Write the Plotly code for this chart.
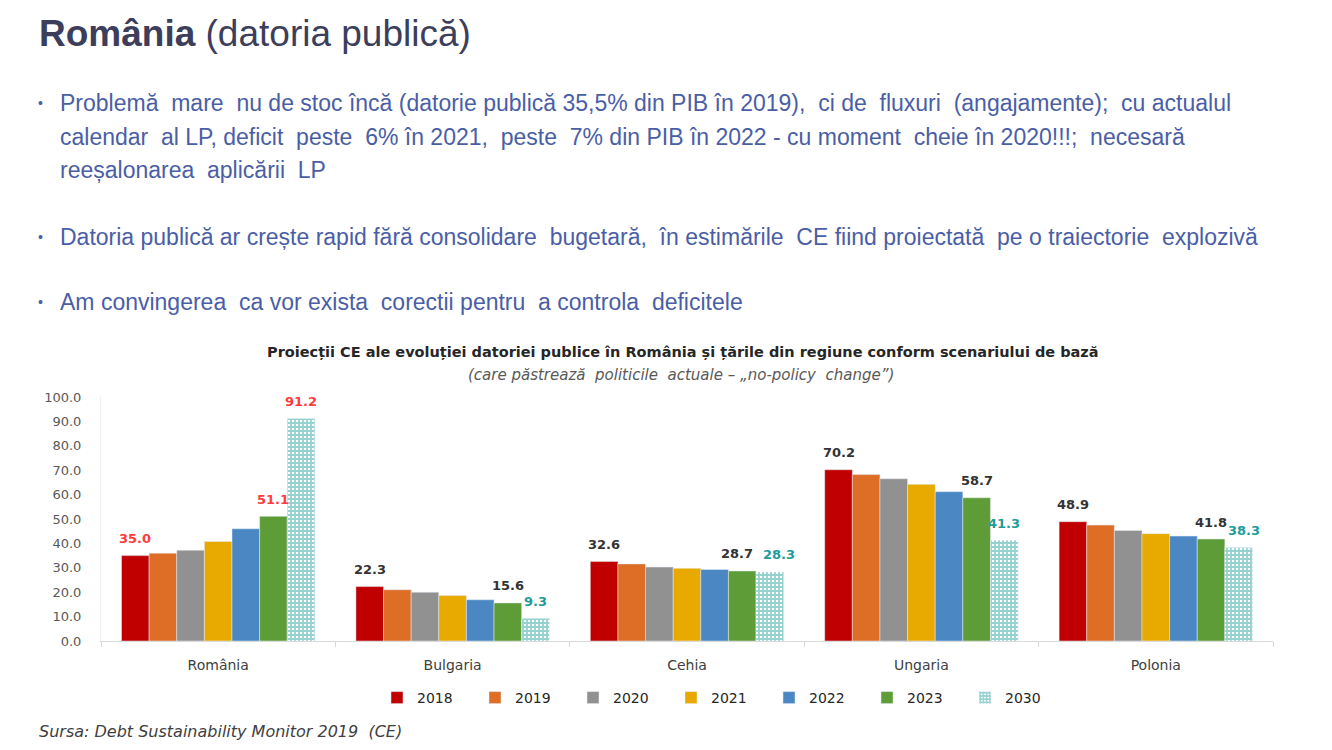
import plotly.graph_objects as go

# date: Debt Sustainability Monitor 2019 (CE), datoria publica % PIB
tari = ['România', 'Bulgaria', 'Cehia', 'Ungaria', 'Polonia']
ani = ['2018', '2019', '2020', '2021', '2022', '2023', '2030']

d2018 = [35.0, 22.3, 32.6, 70.2, 48.9]
d2019 = [36.0, 21.0, 31.6, 68.2, 47.5]
d2020 = [37.2, 20.0, 30.3, 66.5, 45.3]
d2021 = [40.8, 18.6, 29.8, 64.2, 44.0]
d2022 = [46.0, 16.9, 29.3, 61.2, 43.0]
d2023 = [51.1, 15.6, 28.7, 58.7, 41.8]
d2030 = [91.2, 9.3, 28.3, 41.3, 38.3]

serii = [d2018, d2019, d2020, d2021, d2022, d2023, d2030]
culori = ['#C00000', '#DE6D26', '#919191', '#E8AA00', '#4A87C3', '#5E9C37', '#1F9C9A']
# ce ani au eticheta de valoare
cu_eticheta = ['2018', '2023', '2030']

bullet1 = ['Problemă  mare  nu de stoc încă (datorie publică 35,5% din PIB în 2019),  ci de  fluxuri  (angajamente);  cu actualul',
           'calendar  al LP, deficit  peste  6% în 2021,  peste  7% din PIB în 2022 - cu moment  cheie în 2020!!!;  necesară',
           'reeșalonarea  aplicării  LP']
bullet2 = 'Datoria publică ar crește rapid fără consolidare  bugetară,  în estimările  CE fiind proiectată  pe o traiectorie  explozivă'
bullet3 = 'Am convingerea  ca vor exista  corectii pentru  a controla  deficitele'

# pagina are margine de 8px in browser -> figura mai mica, coordonate mutate
OFF = 8
W, H = 1332 - 2 * OFF, 750 - 2 * OFF
# zona graficului (coordonate pe pagina)
L, R, T, B = 101 - OFF, 1273 - OFF, 397 - OFF, 641 - OFF
BARGAP = 0.175


def px2paper(x, y):
    # pixel pe pagina -> coordonate paper
    x, y = x - OFF, y - OFF
    return (x - L) / (R - L), (B - y) / (B - T)


fig = go.Figure()

for an, vals, col in zip(ani, serii, culori):
    if an == '2030':
        marker = dict(color='white', pattern=dict(shape='+', fgcolor='#2AA3A0', bgcolor='white',
                                                  size=4, solidity=0.7))
    else:
        marker = dict(color=col)
    fig.add_trace(go.Bar(x=tari, y=vals, name=an, marker=marker))

fig.update_layout(
    width=W, height=H,
    margin=dict(l=L, r=W - R, t=T, b=H - B, autoexpand=False),
    paper_bgcolor='white', plot_bgcolor='white',
    barmode='group', bargap=BARGAP, bargroupgap=0,
    font=dict(family='DejaVu Sans', color='#404040'),
    showlegend=True,
    legend=dict(orientation='h', xref='container', yref='container',
                x=(377 - OFF) / W, xanchor='left', y=1 - (698 - OFF) / H, yanchor='middle',
                font=dict(family='DejaVu Sans', size=14, color='#262626'),
                entrywidth=53, itemwidth=30, traceorder='normal'),
)

fig.update_yaxes(range=[0, 100], dtick=10, tickformat='.1f', showgrid=False, zeroline=False,
                 showline=True, linecolor='#EEF2F8', linewidth=1,
                 tickfont=dict(family='DejaVu Sans', size=13, color='#595959'), ticklabelstandoff=16)
fig.update_xaxes(showgrid=False, showline=True, linecolor='#D9D9D9', linewidth=1,
                 ticks='outside', tickson='boundaries', ticklen=5, tickcolor='#D9D9D9',
                 tickfont=dict(family='DejaVu Sans', size=14, color='#404040'), ticklabelstandoff=11)

adnotari = []

# etichete de valoare deasupra barelor
lat_cat = (R - L) / len(tari)
lat_bara = lat_cat * (1 - BARGAP) / len(ani)
# Excel a departat etichetele de la Cehia ca sa nu se suprapuna
decalaj = {('2023', 2): -5, ('2030', 2): 9, ('2030', 4): 5}
for j, (an, vals) in enumerate(zip(ani, serii)):
    if an not in cu_eticheta:
        continue
    for i, v in enumerate(vals):
        if i == 0:
            c = '#FF3B3B'
        elif an == '2030':
            c = '#1F9C9A'
        else:
            c = '#333333'
        adnotari.append(dict(x=tari[i], y=v, xref='x', yref='y', text='<b>%.1f</b>' % v, showarrow=False,
                             xanchor='center', yanchor='middle',
                             xshift=(j - (len(ani) - 1) / 2) * lat_bara + decalaj.get((an, i), 0),
                             yshift=17,
                             font=dict(family='DejaVu Sans', size=13, color=c)))

# titlul slide-ului
x, y = px2paper(37, 34)
adnotari.append(dict(x=x, y=y, xref='paper', yref='paper', xanchor='left', yanchor='middle', showarrow=False,
                     text='<b>România</b> (datoria publică)',
                     font=dict(family='Liberation Sans', size=37, color='#3D3D5C')))

# bullet-uri
culoare_bullet = '#4A5EA6'
randuri = [(bullet1[0], 103, True), (bullet1[1], 137, False), (bullet1[2], 170, False),
           (bullet2, 237, True), (bullet3, 302, True)]
for txt, yy, cu_punct in randuri:
    x, y = px2paper(58, yy)
    adnotari.append(dict(x=x, y=y, xref='paper', yref='paper', xanchor='left', yanchor='middle',
                         showarrow=False, text=txt,
                         font=dict(family='Liberation Sans', size=23, color=culoare_bullet)))
    if cu_punct:
        x, y = px2paper(40, yy)
        adnotari.append(dict(x=x, y=y, xref='paper', yref='paper', xanchor='center', yanchor='middle',
                             showarrow=False, text='•',
                             font=dict(family='Liberation Sans', size=14, color=culoare_bullet)))

# titlul graficului
x, y = px2paper(683, 352)
adnotari.append(dict(x=x, y=y, xref='paper', yref='paper', xanchor='center', yanchor='middle', showarrow=False,
                     text='<b>Proiecții CE ale evoluției datoriei publice în România și țările din regiune conform scenariului de bază</b>',
                     font=dict(family='DejaVu Sans', size=14.5, color='#262626')))
x, y = px2paper(681, 375)
adnotari.append(dict(x=x, y=y, xref='paper', yref='paper', xanchor='center', yanchor='middle', showarrow=False,
                     text='<i>(care păstrează  politicile  actuale – „no-policy  change”)</i>',
                     font=dict(family='DejaVu Sans', size=15, color='#595959')))

# sursa
x, y = px2paper(37, 731)
adnotari.append(dict(x=x, y=y, xref='paper', yref='paper', xanchor='left', yanchor='middle', showarrow=False,
                     text='<i>Sursa: Debt Sustainability Monitor 2019  (CE)</i>',
                     font=dict(family='DejaVu Sans', size=16, color='#404040')))

fig.update_layout(annotations=adnotari)

fig.write_html("out.html")
